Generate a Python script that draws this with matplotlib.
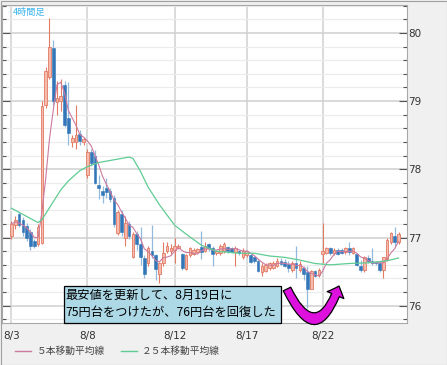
import numpy as np
import pandas as pd
import matplotlib
matplotlib.use("Agg")
import matplotlib.pyplot as plt
from matplotlib.patches import Rectangle, FancyArrowPatch
from matplotlib.lines import Line2D
from matplotlib.ticker import MultipleLocator

plt.rcParams['font.family'] = ['Noto Sans CJK JP', 'DejaVu Sans']

# USD/JPY 4-hour candles
opens = [77.02, 77.18, 77.34, 77.26, 77.17, 77.08, 76.95, 76.91, 76.92, 78.94,
         79.35, 79.78, 78.98, 79.00, 79.24, 78.75, 78.40, 78.40, 78.52, 78.40,
         77.92, 78.25, 78.20, 77.77, 77.68, 77.73, 77.68, 77.58, 77.07, 77.35,
         77.00, 77.20, 76.72, 77.05, 76.90, 76.70, 76.62, 76.80, 76.74, 76.47,
         76.62, 76.81, 76.80, 76.82, 76.85, 76.76, 76.54, 76.74, 76.76, 76.79,
         76.86, 76.81, 76.90, 76.84, 76.77, 76.78, 76.80, 76.86, 76.84, 76.79,
         76.80, 76.71, 76.74, 76.74, 76.71, 76.66, 76.49, 76.51, 76.55, 76.56,
         76.59, 76.66, 76.64, 76.61, 76.53, 76.63, 76.52, 76.56, 76.49, 76.25,
         76.51, 76.45, 76.76, 76.78, 76.84, 76.78, 76.82, 76.82, 76.79, 76.84,
         76.78, 76.76, 76.59, 76.52, 76.70, 76.66, 76.64, 76.62, 76.52, 76.69,
         76.93, 77.03, 76.93]
highs = [77.24, 77.32, 77.37, 77.30, 77.22, 77.12, 76.98, 77.20, 79.00, 79.50,
         80.22, 79.90, 79.30, 79.32, 79.30, 79.28, 78.50, 78.95, 78.58, 78.48,
         78.30, 78.30, 78.28, 77.92, 77.75, 77.87, 77.72, 77.62, 77.40, 77.40,
         77.32, 77.25, 77.08, 77.10, 77.15, 76.74, 76.88, 77.18, 76.76, 76.64,
         76.93, 76.93, 76.91, 77.00, 76.90, 76.78, 76.76, 76.86, 76.85, 76.84,
         77.10, 76.93, 76.92, 76.88, 76.82, 76.90, 76.93, 76.88, 76.86, 76.88,
         76.82, 76.84, 76.82, 76.76, 76.73, 76.69, 76.62, 76.63, 76.64, 76.66,
         76.70, 76.70, 76.68, 76.66, 76.66, 76.88, 76.65, 76.59, 76.59, 76.53,
         76.53, 76.56, 77.21, 76.86, 76.86, 76.84, 76.84, 76.84, 76.86, 76.93,
         76.86, 76.78, 76.67, 76.73, 76.74, 76.85, 76.66, 76.66, 76.72, 77.00,
         77.08, 77.15, 77.08]
lows = [76.98, 77.12, 77.15, 77.02, 76.95, 76.82, 76.84, 76.88, 76.90, 78.90,
        79.33, 78.95, 78.80, 78.85, 78.62, 78.35, 78.33, 78.30, 78.35, 78.36,
        77.88, 78.05, 77.78, 77.57, 77.50, 77.58, 77.52, 77.16, 77.04, 77.02,
        76.88, 76.98, 76.70, 76.82, 76.60, 76.41, 76.59, 76.70, 76.38, 76.34,
        76.59, 76.78, 76.76, 76.63, 76.83, 76.53, 76.52, 76.72, 76.74, 76.77,
        76.69, 76.79, 76.80, 76.59, 76.74, 76.75, 76.78, 76.78, 76.77, 76.59,
        76.74, 76.69, 76.72, 76.63, 76.62, 76.50, 76.44, 76.49, 76.53, 76.54,
        76.57, 76.60, 76.57, 76.49, 76.50, 76.40, 76.49, 76.38, 75.97, 76.24,
        76.42, 76.42, 76.62, 76.76, 76.74, 76.75, 76.74, 76.76, 76.76, 76.74,
        76.76, 76.58, 76.50, 76.50, 76.62, 76.60, 76.60, 76.50, 76.41, 76.66,
        76.90, 76.88, 76.91]
closes = [77.20, 77.26, 77.18, 77.08, 77.00, 76.88, 76.88, 77.15, 78.93, 79.44,
          79.80, 79.00, 79.05, 79.08, 78.65, 78.53, 78.46, 78.50, 78.42, 78.45,
          78.25, 78.10, 77.80, 77.72, 77.62, 77.67, 77.56, 77.20, 77.37, 77.08,
          77.22, 77.03, 77.05, 76.90, 76.72, 76.47, 76.84, 76.74, 76.54, 76.63,
          76.78, 76.88, 76.84, 76.88, 76.88, 76.56, 76.74, 76.84, 76.82, 76.83,
          76.79, 76.88, 76.84, 76.76, 76.81, 76.87, 76.90, 76.80, 76.79, 76.84,
          76.77, 76.81, 76.80, 76.64, 76.66, 76.51, 76.59, 76.60, 76.62, 76.63,
          76.66, 76.61, 76.59, 76.56, 76.63, 76.56, 76.61, 76.46, 76.25, 76.51,
          76.44, 76.52, 76.81, 76.84, 76.77, 76.82, 76.76, 76.78, 76.84, 76.79,
          76.84, 76.60, 76.52, 76.72, 76.66, 76.63, 76.62, 76.52, 76.71, 76.97,
          77.06, 76.93, 77.05]

# 25-bar moving average as drawn (bar index, value)
ma25_bar = [0, 7, 8, 13, 15, 18, 20, 23, 26, 31, 32, 34, 36, 39, 43, 47, 50,
            54, 60, 64, 68, 72, 76, 80, 84, 89, 94, 99, 102]
ma25_val = [77.43, 77.22, 77.26, 77.70, 77.83, 77.98, 78.04, 78.10, 78.13,
            78.18, 78.16, 77.97, 77.74, 77.48, 77.18, 77.01, 76.89, 76.80,
            76.77, 76.77, 76.73, 76.71, 76.67, 76.62, 76.60, 76.62, 76.63,
            76.66, 76.70]

date_ticks = [0, 20, 43, 62, 82]
date_labels = ['8/3', '8/8', '8/12', '8/17', '8/22']

ma5_label = '５本移動平均線'
ma25_label = '２５本移動平均線'
note_lines = ['最安値を更新して、8月19日に', '75円台をつけたが、76円台を回復した']

W, H = 447, 365
def fx(px):
    return px / W
def fy(py):
    return 1 - py / H

up_face, up_edge = '#f5bcae', '#e27a64'
dn_face, dn_wick = '#3377b8', '#93bade'
ma5_color = '#cc7aa0'
ma25_color = '#5fcc93'

fig = plt.figure(figsize=(W / 100, H / 100), dpi=100, facecolor='#f0f0f0')
ax = fig.add_axes([fx(2), fy(322.5), fx(406.5) - fx(2), fy(4.5) - fy(322.5)])
ax.set_facecolor('white')

n = len(closes)
x = np.arange(n)
bw = 0.7
for i in range(n):
    o, h, l, c = opens[i], highs[i], lows[i], closes[i]
    if c >= o:
        ax.vlines(i, l, h, color=up_edge, lw=0.8, zorder=3)
        ax.add_patch(Rectangle((i - bw / 2, o), bw, max(c - o, 0.008),
                               fc=up_face, ec=up_edge, lw=0.6, zorder=4))
    else:
        ax.vlines(i, l, h, color=dn_wick, lw=0.9, zorder=3)
        ax.add_patch(Rectangle((i - bw / 2, c), bw, max(o - c, 0.008),
                               fc=dn_face, ec=dn_face, lw=0.4, zorder=4))

ma5 = pd.Series(closes).rolling(5, min_periods=1).mean()
ax.plot(x, ma5, color=ma5_color, lw=0.8, zorder=5)
ax.plot(ma25_bar, ma25_val, color=ma25_color, lw=0.9, zorder=5)

ax.set_xlim(-2.5, 104.1)
ax.set_ylim(75.755, 80.416)

ax.set_xticks(date_ticks)
ax.set_xticklabels(date_labels, family='DejaVu Sans')
ax.yaxis.set_major_locator(MultipleLocator(1))
ax.yaxis.set_minor_locator(MultipleLocator(0.2))
ax.grid(axis='x', which='major', color='#d4d4d4', lw=1.2, zorder=0)
ax.grid(axis='y', which='major', color='#d0d0d0', lw=1.1, zorder=0)
ax.grid(axis='y', which='minor', color='#ebebeb', lw=0.8, zorder=0)
ax.set_axisbelow(True)

ax.tick_params(axis='x', length=0, pad=6, labelsize=7.5, labelcolor='#333333')
ax.tick_params(axis='y', which='both', direction='in', left=True, right=True,
               labelleft=False, labelright=True, color='#555555', width=0.8,
               labelsize=7.5, labelcolor='#333333', pad=1.5)
ax.tick_params(axis='y', which='major', length=5.5)
ax.tick_params(axis='y', which='minor', length=3.2)
for lab in ax.get_yticklabels():
    lab.set_family('DejaVu Sans')
for sp in ax.spines.values():
    sp.set_color('#a8a8a8')
    sp.set_linewidth(0.8)

# timeframe label
fig.text(fx(13), fy(12.5), '4時間足', color='#3cb4ee', fontsize=6.6, va='center', ha='left')

# note box
fig.patches.append(Rectangle((fx(64), fy(322.7)), fx(281) - fx(64), fy(286) - fy(322.7),
                             transform=fig.transFigure, fc='#add8e6', ec='black', lw=0.9, zorder=10))
fig.text(fx(65.5), fy(295.5), note_lines[0], fontsize=8.8, va='center', ha='left', zorder=11)
fig.text(fx(65.5), fy(312.5), note_lines[1], fontsize=8.8, va='center', ha='left', zorder=11)

# U-turn arrow
arrow = FancyArrowPatch(posA=(fx(287), fy(289)), posB=(fx(339), fy(286)),
                        transform=fig.transFigure, connectionstyle='arc3,rad=1.2',
                        arrowstyle='simple,head_length=7,head_width=13,tail_width=6',
                        mutation_scale=1, shrinkA=0, shrinkB=0,
                        fc='#dd10dd', ec='black', lw=0.9, zorder=12)
fig.patches.append(arrow)

# legend
fig.lines.append(Line2D([fx(15), fx(31)], [fy(351), fy(351)], transform=fig.transFigure,
                        color=ma5_color, lw=1))
fig.text(fx(37), fy(351), ma5_label, fontsize=7, color='#444444', va='center', ha='left')
fig.lines.append(Line2D([fx(121), fx(137)], [fy(351), fy(351)], transform=fig.transFigure,
                        color=ma25_color, lw=1))
fig.text(fx(142), fy(351), ma25_label, fontsize=7, color='#444444', va='center', ha='left')

# outer frame
fig.patches.append(Rectangle((0.5 / W, 0.5 / H), 1 - 1 / W, 1 - 1 / H, transform=fig.transFigure,
                             fill=False, ec='#a0a0a0', lw=0.8))

fig.savefig('out.png', dpi=100, facecolor=fig.get_facecolor())
